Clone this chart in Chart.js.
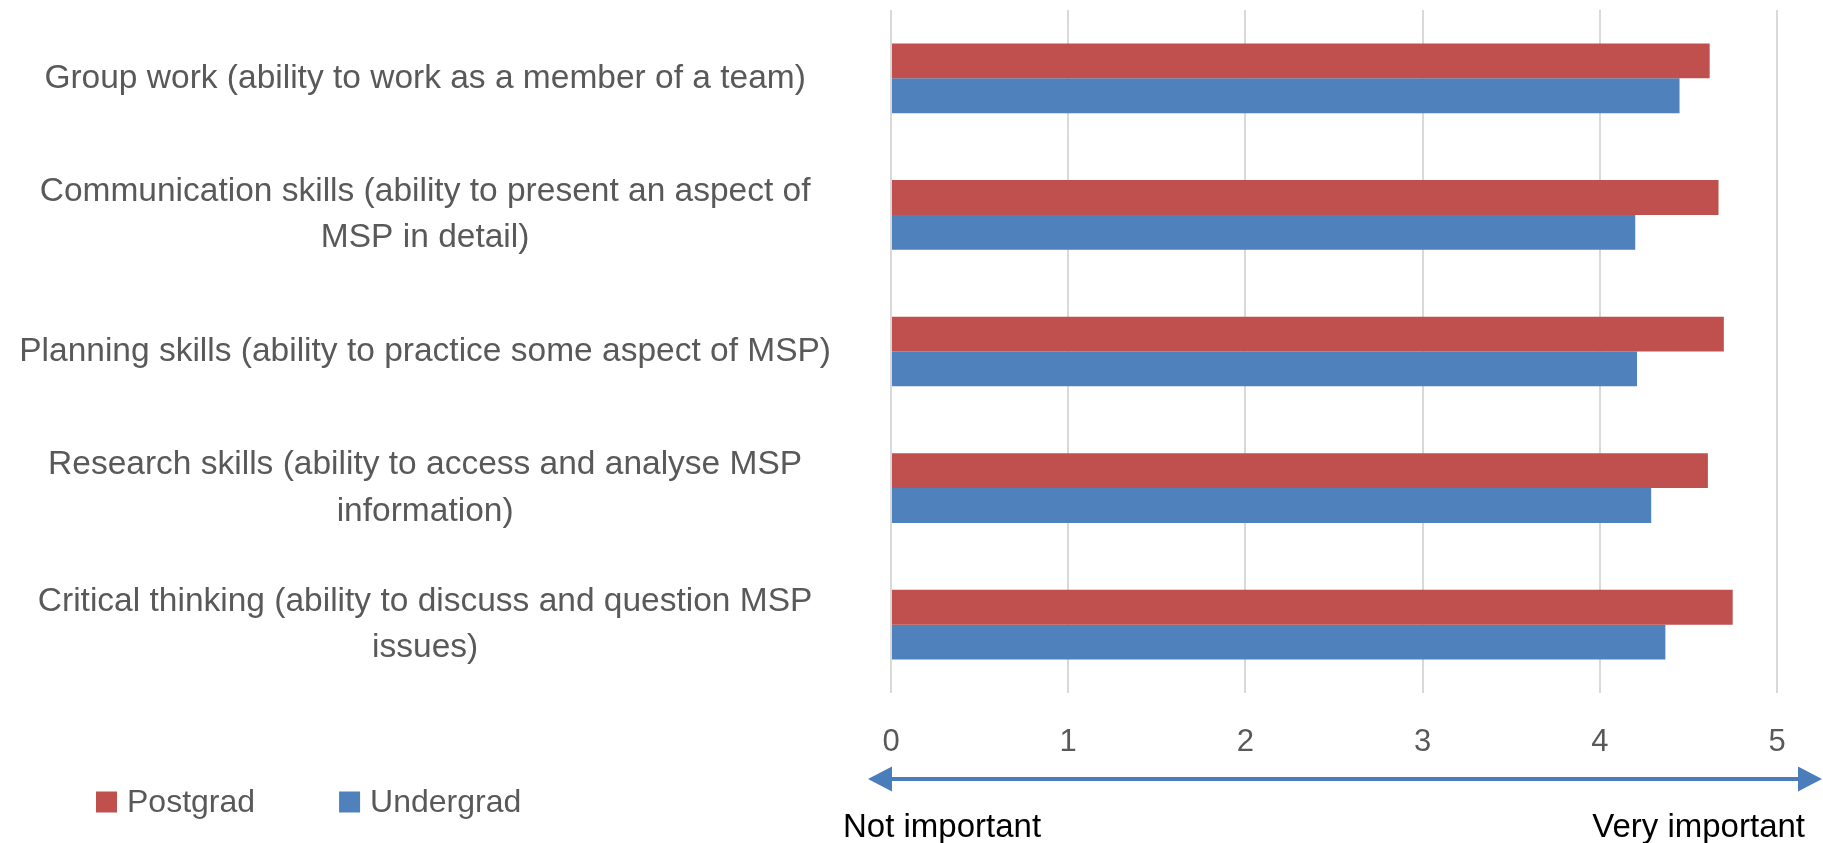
<!DOCTYPE html>
<html><head><meta charset="utf-8">
<script src="https://cdn.jsdelivr.net/npm/chart.js@4/dist/chart.umd.min.js"></script>
<style>html,body{margin:0;padding:0;background:#fff;}#wrap{width:1823px;height:843px;position:relative;}</style>
</head><body><div id="wrap"><canvas id="c"></canvas></div>
<script>
const categories = [
  ['Group work (ability to work as a member of a team)'],
  ['Communication skills (ability to present an aspect of', 'MSP in detail)'],
  ['Planning skills (ability to practice some aspect of MSP)'],
  ['Research skills (ability to access and analyse MSP', 'information)'],
  ['Critical thinking (ability to discuss and question MSP', 'issues)']
];
const seriesNames = ['Postgrad', 'Undergrad'];
const postgrad = [4.62, 4.67, 4.70, 4.61, 4.75];
const undergrad = [4.45, 4.20, 4.21, 4.29, 4.37];
const xTicks = [0, 1, 2, 3, 4, 5];
const axisEnds = ['Not important', 'Very important'];

const RED = '#c0504d', BLUE = '#4f81bd';
const FONT = '"Liberation Sans", Arial, sans-serif';

const extras = {
  id: 'extras',
  afterDraw(chart) {
    const ctx = chart.ctx;
    const xs = chart.scales.x;
    ctx.save();
    // arrow
    const y = 779;
    const x0 = xs.getPixelForValue(xTicks[0]) - 23;
    const x1 = chart.width - 1;
    const head = 24, half = 12.5;
    ctx.strokeStyle = '#4a7ebb';
    ctx.fillStyle = '#4a7ebb';
    ctx.lineWidth = 4;
    ctx.beginPath(); ctx.moveTo(x0 + head - 2, y); ctx.lineTo(x1 - head + 2, y); ctx.stroke();
    ctx.beginPath(); ctx.moveTo(x0, y); ctx.lineTo(x0 + head, y - half); ctx.lineTo(x0 + head, y + half); ctx.closePath(); ctx.fill();
    ctx.beginPath(); ctx.moveTo(x1, y); ctx.lineTo(x1 - head, y - half); ctx.lineTo(x1 - head, y + half); ctx.closePath(); ctx.fill();
    // end labels
    ctx.fillStyle = '#000000';
    ctx.font = '33px ' + FONT;
    ctx.textBaseline = 'alphabetic';
    ctx.textAlign = 'left';
    ctx.fillText(axisEnds[0], 843, 837);
    ctx.textAlign = 'right';
    ctx.fillText(axisEnds[1], 1805, 837);
    // legend
    ctx.font = '32px ' + FONT;
    ctx.textAlign = 'left';
    ctx.textBaseline = 'middle';
    let lx = 96;
    const ly = 802, box = 21;
    chart.data.datasets.forEach(ds => {
      ctx.fillStyle = ds.backgroundColor;
      ctx.fillRect(lx, ly - box / 2, box, box);
      ctx.fillStyle = '#595959';
      ctx.fillText(ds.label, lx + box + 10, ly + 1);
      lx += box + 10 + ctx.measureText(ds.label).width + 84;
    });
    ctx.restore();
  }
};

new Chart(document.getElementById('c'), {
  type: 'bar',
  data: {
    labels: categories,
    datasets: [
      { label: seriesNames[0], data: postgrad, backgroundColor: RED },
      { label: seriesNames[1], data: undergrad, backgroundColor: BLUE }
    ]
  },
  options: {
    indexAxis: 'y',
    responsive: true,
    maintainAspectRatio: false,
    animation: false,
    devicePixelRatio: 1,
    categoryPercentage: 0.51,
    barPercentage: 1.0,
    layout: { padding: { top: 10, right: 46, left: 0, bottom: 0 } },
    plugins: { legend: { display: false }, tooltip: { enabled: false } },
    scales: {
      x: {
        type: 'linear', min: 0, max: 5,
        afterBuildTicks(s) { s.ticks = xTicks.map(v => ({ value: v })); },
        afterFit(s) { s.height = 150; },
        grid: { color: '#d9d9d9', lineWidth: 2, drawTicks: false },
        border: { display: false },
        ticks: { color: '#595959', font: { family: FONT, size: 31 }, padding: 31 }
      },
      y: {
        type: 'category',
        afterFit(s) { s.width = 891; s.paddingTop = 0; s.paddingBottom = 0; },
        grid: { display: false, drawTicks: false },
        border: { display: false },
        ticks: {
          color: '#595959', crossAlign: 'center', padding: 60,
          font: { family: FONT, size: 33.5, lineHeight: 1.39 }
        }
      }
    }
  },
  plugins: [extras]
});
</script></body></html>
